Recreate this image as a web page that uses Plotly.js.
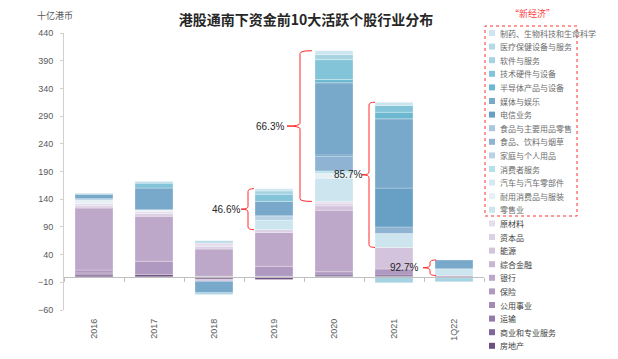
<!DOCTYPE html>
<html><head><meta charset="utf-8">
<script src="https://cdn.plot.ly/plotly-3.0.1.min.js"></script>
<style>html,body{margin:0;padding:0;background:#fff}#chart{width:618px;height:359px}</style>
</head><body><div id="chart"></div>
<script>
// ---------- data (十亿港币) ----------
const categories = ['2016','2017','2018','2019','2020','2021','1Q22'];

// "新经济" sectors (legend order, top to bottom)
const pharma       = [2, null, null, 4, 7, 6, null];      // 制药、生物科技和生命科学
const healthcare   = [null, 3, 4, null, -2, null, null];  // 医疗保健设备与服务
const software     = [null, null, -3, 6, 9, -11, -7];     // 软件与服务
const techHardware = [null, 9, null, 13, 36, 12, null];   // 技术硬件与设备
const semis        = [null, null, null, null, 6, 12, null]; // 半导体产品与设备
const media        = [8, 39, -21, 26, 130, 125, 16];      // 媒体与娱乐
const telecom      = [null, null, null, null, 3, 70, null]; // 电信业务
const foodRetail   = [null, null, null, null, null, null, null]; // 食品与主要用品零售
const foodBev      = [null, null, null, null, 26, 12, null]; // 食品、饮料与烟草
const household    = [3, null, null, 8, null, null, null]; // 家庭与个人用品
const consumerSvc  = [null, null, null, null, 4, null, null]; // 消费者服务
const autos        = [null, null, null, null, null, null, null]; // 汽车与汽车零部件
const durables     = [6, 3, null, null, 9, null, null];    // 耐用消费品与服装
const retail       = [null, null, null, 17, 42, 25, 12];   // 零售业
// other sectors
const materials    = [4, 4, 6, null, 4, null, null];       // 原材料
const capitalGoods = [4, 5, 5, 5, 4, null, null];          // 资本品
const energy       = [null, null, -4, null, 8, 39, null];  // 能源
const diversifiedFin = [null, null, null, null, null, null, null]; // 综合金融
const banks        = [112, 81, 49, 61, 111, null, null];   // 银行
const insurance    = [5, 24, 1, 18, 6, 11, 2.3];           // 保险
const utilities    = [2, null, null, null, null, null, null]; // 公用事业
const transport    = [2, null, null, 1, null, null, null]; // 运输
const commercial   = [null, null, null, null, null, null, null]; // 商业和专业服务
const realEstate   = [3, 4, -4, -5, 3, 3, -2];             // 房地产

const newEconomyNames = ['制药、生物科技和生命科学','医疗保健设备与服务','软件与服务','技术硬件与设备','半导体产品与设备','媒体与娱乐','电信业务','食品与主要用品零售','食品、饮料与烟草','家庭与个人用品','消费者服务','汽车与汽车零部件','耐用消费品与服装','零售业'];
const oldEconomyNames = ['原材料','资本品','能源','综合金融','银行','保险','公用事业','运输','商业和专业服务','房地产'];
const newEconomyValues = [pharma, healthcare, software, techHardware, semis, media, telecom, foodRetail, foodBev, household, consumerSvc, autos, durables, retail];
const oldEconomyValues = [materials, capitalGoods, energy, diversifiedFin, banks, insurance, utilities, transport, commercial, realEstate];

const shareCategories = ['2019','2020','2021','1Q22'];
const shareLabels = ['46.6%','66.3%','85.7%','92.7%'];

// ---------- styling ----------
const newColors = ['#cce5ee','#b6dbe8','#a5d3e2','#84c4d8','#6cb8d0','#78a8ca','#68a0c5','#a9c8e0','#8fb4d3','#b9d3e6','#b7e1e9','#d4e9f1','#e6f1f5','#cde5ee'];
const oldColors = ['#e5dded','#dcd0e4','#d3c3dc','#c8b6d3','#bda8c9','#b099c0','#a58ab5','#947aa8','#80669a','#6d5080'];
const CJK = 'Noto Sans CJK SC, sans-serif';
const NUM = 'Liberation Sans, Noto Sans CJK SC, sans-serif';

const allNames = newEconomyNames.concat(oldEconomyNames);
const allValues = newEconomyValues.concat(oldEconomyValues);
const allColors = newColors.concat(oldColors);

// plot geometry (px)
const M = {l: 64, r: 134, t: 33, b: 49};
const W = 618, H = 359;
const plotW = W - M.l - M.r, plotH = H - M.t - M.b;
const px2paperX = px => (px - M.l) / plotW;
const px2paperY = py => (H - M.b - py) / plotH;

// traces: stack from bottom (房地产) upward to 制药
const traces = [];
for (let k = allNames.length - 1; k >= 0; k--) {
  traces.push({
    type: 'bar', name: allNames[k], x: categories, y: allValues[k],
    marker: {color: allColors[k], line: {color: 'rgba(255,255,255,0.55)', width: 0.5}},
    hoverinfo: 'x+y+name', showlegend: false
  });
}
// dummy trace for the zero-line category axis
traces.push({type: 'scatter', x: categories, y: categories.map(() => null), xaxis: 'x2', yaxis: 'y', mode: 'markers', showlegend: false, hoverinfo: 'skip'});

const shapes = [], annotations = [];

// brackets for new-economy share
const bracketOffsets = { // px relative to category centre: vertical, arm, tip, label
  '2019': [-26, -20, -33, -48],
  '2020': [-34, -22, -47, -64],
  '2021': [-25, -19, -32, -46],
  '1Q22': [-24, -18, -31, -50]
};
const catW = plotW / categories.length;
shareCategories.forEach((c, j) => {
  const i = categories.indexOf(c);
  let oldSum = 0, newSum = 0;
  oldEconomyValues.forEach(a => { if (a[i] > 0) oldSum += a[i]; });
  newEconomyValues.forEach(a => { if (a[i] > 0) newSum += a[i]; });
  const ybot = oldSum, ytop = oldSum + newSum, ymid = (ybot + ytop) / 2;
  const cx = M.l + catW * (i + 0.5);
  const o = bracketOffsets[c];
  const xv = px2paperX(cx + o[0]), xa = px2paperX(cx + o[1]), xt = px2paperX(cx + o[2]);
  const r = Math.min(5, (ytop - ybot) / 6);
  const p = `M${xa},${ytop} Q${xv},${ytop} ${xv},${ytop - r} L${xv},${ymid + r} Q${xv},${ymid} ${xt},${ymid} Q${xv},${ymid} ${xv},${ymid - r} L${xv},${ybot + r} Q${xv},${ybot} ${xa},${ybot}`;
  shapes.push({type: 'path', xref: 'paper', yref: 'y', path: p, line: {color: '#ff2a2a', width: 1}});
  annotations.push({xref: 'paper', yref: 'y', x: px2paperX(cx + o[3]), y: ymid, text: shareLabels[j], showarrow: false,
    font: {family: NUM, size: 10, color: '#262626'}, xanchor: 'center', yanchor: 'middle'});
});

// manual legend
const legendTop = 33, legendStep = 13.6;
allNames.forEach((n, k) => {
  const py = legendTop + legendStep * k;
  shapes.push({type: 'rect', xref: 'paper', yref: 'paper', x0: px2paperX(489), x1: px2paperX(495),
    y0: px2paperY(py + 3), y1: px2paperY(py - 3), fillcolor: allColors[k], line: {width: 0}});
  annotations.push({xref: 'paper', yref: 'paper', x: px2paperX(497.5), y: px2paperY(py), text: n, showarrow: false,
    xanchor: 'left', yanchor: 'middle', font: {family: CJK, size: 8, color: k < 14 ? '#6b6b6b' : '#404040'}});
});
// dashed box round "new economy"
shapes.push({type: 'rect', xref: 'paper', yref: 'paper', x0: px2paperX(485), x1: px2paperX(577),
  y0: px2paperY(216), y1: px2paperY(26), line: {color: '#ff3030', width: 1, dash: 'dot'}, fillcolor: 'rgba(0,0,0,0)'});
annotations.push({xref: 'paper', yref: 'paper', x: px2paperX(532), y: px2paperY(13.5), text: '“新经济”', showarrow: false,
  xanchor: 'center', yanchor: 'middle', font: {family: CJK, size: 9, color: '#ff4040'}});
// unit
annotations.push({xref: 'paper', yref: 'paper', x: px2paperX(35), y: px2paperY(15.5), text: '十亿港币', showarrow: false,
  xanchor: 'left', yanchor: 'middle', font: {family: CJK, size: 9, color: '#595959'}});

const layout = {
  width: W, height: H, margin: M,
  paper_bgcolor: '#ffffff', plot_bgcolor: '#ffffff',
  barmode: 'relative', bargap: 0.367,
  showlegend: false,
  title: {text: '<b>港股通南下资金前10大活跃个股行业分布</b>', x: 306 / W, xanchor: 'center', y: 1 - 20 / H, yanchor: 'middle',
    font: {family: CJK, size: 14, color: '#262626'}},
  xaxis: {type: 'category', categoryorder: 'array', categoryarray: categories, range: [-0.5, 6.5],
    showline: false, ticks: '', showgrid: false, zeroline: false, tickangle: -90, ticklabelstandoff: 6,
    tickfont: {family: NUM, size: 9, color: '#595959'}},
  xaxis2: {type: 'category', categoryorder: 'array', categoryarray: categories, range: [-0.5, 6.5],
    overlaying: 'x', anchor: 'free', position: 60 / 500, showline: true, linecolor: '#bfbfbf', linewidth: 1,
    ticks: 'outside', tickson: 'boundaries', ticklen: 4, tickcolor: '#bfbfbf', showticklabels: false, showgrid: false, zeroline: false},
  yaxis: {range: [-60, 440], tick0: -60, dtick: 50, showgrid: false, zeroline: false,
    showline: true, linecolor: '#d0d0d0', linewidth: 1, ticks: 'outside', ticklen: 3, tickcolor: '#d0d0d0', ticklabelstandoff: 5,
    tickfont: {family: NUM, size: 9, color: '#595959'}},
  shapes: shapes, annotations: annotations
};

Plotly.newPlot('chart', traces, layout, {displayModeBar: false, staticPlot: true});
</script>
</body></html>
